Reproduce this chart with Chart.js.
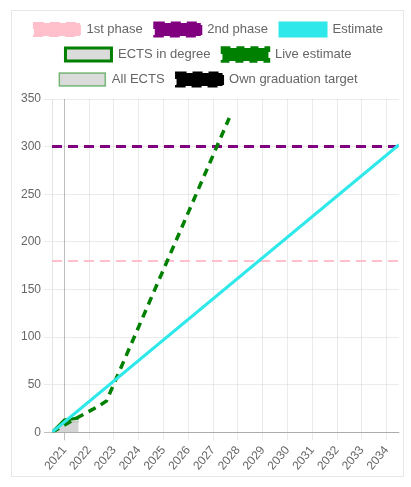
<!DOCTYPE html>
<html>
<head>
<meta charset="utf-8">
<script src="https://cdn.jsdelivr.net/npm/chart.js@4.4.1/dist/chart.umd.min.js"></script>
<style>
    html, body { margin: 0; padding: 0; background: #fff; }
    .card {
        position: absolute;
        left: 11px;
        top: 10px;
        width: 391px;
        height: 465px;
        border: 1px solid #e6e6e6;
    }
</style>
</head>
<body>
<div class="card">
    <canvas id="progressChart"></canvas>
</div>
<script>
// Years shown on the x axis
const years = [2021, 2022, 2023, 2024, 2025, 2026, 2027, 2028, 2029, 2030, 2031, 2032, 2033, 2034];
const yTicks = [0, 50, 100, 150, 200, 250, 300, 350];

// Study span (decimal years)
const spanX = [2020.5, 2034.5];

// Phase targets (ECTS)
const phase1 = [180, 180];
const phase2 = [300, 300];

// Linear estimate
const estimateY = [0, 302];

// Credits collected so far
const ectsX = [2020.5, 2021.0, 2021.57];
const ectsY = [0, 13, 15];
const allX = [2020.5, 2021.1, 2021.57];
const allY = [0, 11, 11];

// Live estimate from current pace
const liveX = [2020.5, 2021.57, 2022.35, 2022.7, 2027.65];
const liveY = [0, 16, 27, 33, 330];

const toPoints = (xs, ys) => xs.map((x, i) => ({ x: x, y: ys[i] }));

// a bit more room between legend and plot
const legendGap = {
    id: 'legendGap',
    beforeInit(chart) {
        const fit = chart.legend.fit;
        chart.legend.fit = function () {
            fit.call(this);
            this.height += 3;
        };
    }
};

const ctx = document.getElementById('progressChart');

new Chart(ctx, {
    type: 'line',
    data: {
        datasets: [
            {
                label: '1st phase',
                data: toPoints(spanX, phase1),
                borderColor: 'pink',
                backgroundColor: 'pink',
                borderWidth: 2,
                borderDash: [10, 6],
                pointRadius: 0,
                fill: false,
                order: 5
            },
            {
                label: '2nd phase',
                data: toPoints(spanX, phase2),
                borderColor: 'purple',
                backgroundColor: 'purple',
                borderWidth: 3,
                borderDash: [10, 6],
                pointRadius: 0,
                fill: false,
                order: 4
            },
            {
                label: 'Estimate',
                data: toPoints(spanX, estimateY),
                borderColor: '#2ee8ea',
                backgroundColor: '#2ee8ea',
                borderWidth: 3,
                pointRadius: 0,
                fill: false,
                order: 1
            },
            {
                label: 'ECTS in degree',
                data: toPoints(ectsX, ectsY),
                borderColor: 'green',
                backgroundColor: 'rgba(210, 210, 210, 0.8)',
                borderWidth: 3,
                pointRadius: 0,
                fill: 'origin',
                order: 3
            },
            {
                label: 'Live estimate',
                data: toPoints(liveX, liveY),
                borderColor: 'green',
                backgroundColor: 'green',
                borderWidth: 3.5,
                borderDash: [8, 6],
                pointRadius: 0,
                fill: false,
                order: 2
            },
            {
                label: 'All ECTS',
                data: toPoints(allX, allY),
                borderColor: 'rgba(0, 128, 0, 0.5)',
                backgroundColor: 'rgba(210, 210, 210, 0.8)',
                borderWidth: 1.5,
                pointRadius: 0,
                fill: 'origin',
                order: 6
            },
            {
                label: 'Own graduation target',
                data: [],
                borderColor: 'black',
                backgroundColor: 'black',
                borderWidth: 3,
                borderDash: [10, 6],
                pointRadius: 0,
                fill: false,
                order: 7
            }
        ]
    },
    plugins: [legendGap],
    options: {
        responsive: true,
        maintainAspectRatio: false,
        animation: false,
        layout: {
            padding: { left: 6, right: 4, top: 0, bottom: 0 }
        },
        plugins: {
            legend: {
                position: 'top',
                labels: {
                    boxWidth: 46,
                    boxHeight: 13,
                    padding: 12,
                    color: '#666',
                    font: { family: 'Liberation Sans, Arial, sans-serif', size: 13 },
                    // keep the dataset order, not the draw order
                    sort: (a, b) => a.datasetIndex - b.datasetIndex
                }
            },
            tooltip: { enabled: false }
        },
        scales: {
            x: {
                type: 'linear',
                min: spanX[0],
                max: spanX[1],
                afterBuildTicks: axis => {
                    axis.ticks = years.map(v => ({ value: v }));
                },
                ticks: {
                    minRotation: 50,
                    maxRotation: 50,
                    padding: 3,
                    color: '#666',
                    font: { family: 'Liberation Sans, Arial, sans-serif', size: 12 },
                    callback: value => String(value)
                },
                grid: {
                    color: c => (c.index === 0 ? 'rgba(0,0,0,0.25)' : 'rgba(0,0,0,0.08)')
                },
                border: { color: 'rgba(0,0,0,0.1)' }
            },
            y: {
                min: 0,
                max: 350,
                afterBuildTicks: axis => {
                    axis.ticks = yTicks.map(v => ({ value: v }));
                },
                ticks: {
                    color: '#666',
                    font: { family: 'Liberation Sans, Arial, sans-serif', size: 12 }
                },
                grid: {
                    color: c => (c.tick && c.tick.value === 0 ? 'rgba(0,0,0,0.25)' : 'rgba(0,0,0,0.08)')
                },
                border: { color: 'rgba(0,0,0,0.1)' }
            }
        }
    }
});
</script>
</body>
</html>
